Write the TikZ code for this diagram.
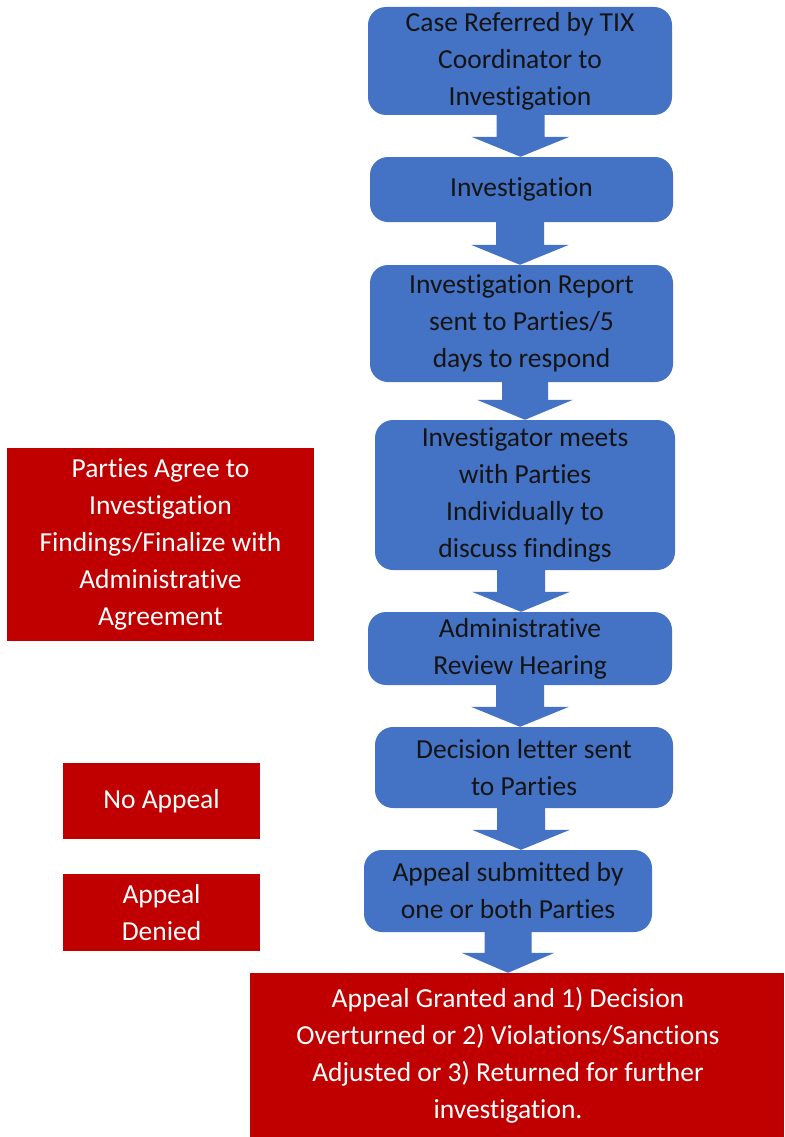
\documentclass[tikz,border=0pt]{standalone}
\usepackage{fontspec}
\setmainfont{Carlito}[RawFeature={-liga;-clig;-calt;-dlig}]
\usetikzlibrary{calc}
\definecolor{boxblue}{HTML}{4472C4}
\definecolor{boxred}{HTML}{C00000}
\definecolor{darktext}{HTML}{141414}
\tikzset{
  stepbox/.style={rectangle, rounded corners=18pt, fill=boxblue, text=darktext,
    align=center, inner sep=0pt, font=\fontsize{27.5}{37}\selectfont},
  outbox/.style={rectangle, fill=boxred, text=white,
    align=center, inner sep=0pt, font=\fontsize{27.5}{37}\selectfont},
}
\newcommand\barrow[5]{% from, to, x centre, shaft half, head half
  \fill[boxblue] let \p1=(#1.south), \p2=(#2.north) in
    (#3pt-#4pt,\y1+3pt) -- (#3pt+#4pt,\y1+3pt) -- (#3pt+#4pt,\y2+20pt) --
    (#3pt+#5pt,\y2+20pt) -- (#3pt,\y2) -- (#3pt-#5pt,\y2+20pt) --
    (#3pt-#4pt,\y2+20pt) -- cycle;}
\begin{document}
\begin{tikzpicture}[x=1pt,y=-1pt]
\useasboundingbox (0,0) rectangle (784,1137);
% flow boxes
\node[stepbox, minimum width=304pt, minimum height=108pt] (b1) at (520,61)
  {Case Referred by TIX\\Coordinator to\\Investigation};
\node[stepbox, minimum width=303pt, minimum height=65pt] (b2) at (521.5,189.5)
  {Investigation};
\node[stepbox, minimum width=303pt, minimum height=117pt] (b3) at (521.5,323.5)
  {Investigation Report\\sent to Parties/5\\days to respond};
\node[stepbox, minimum width=300pt, minimum height=150pt] (b4) at (525,495)
  {Investigator meets\\with Parties\\Individually to\\discuss findings};
\node[stepbox, minimum width=304pt, minimum height=73pt] (b5) at (520,648.5)
  {Administrative\\Review Hearing};
\node[stepbox, minimum width=298pt, minimum height=81pt] (b6) at (524,767.5)
  {Decision letter sent\\to Parties};
\node[stepbox, minimum width=288pt, minimum height=82pt] (b7) at (508,891)
  {Appeal submitted by\\one or both Parties};
% outcome boxes
\node[outbox, minimum width=307pt, minimum height=193pt] (p1) at (160.5,544.5)
  {Parties Agree to\\Investigation\\Findings/Finalize with\\Administrative\\Agreement};
\node[outbox, minimum width=197pt, minimum height=76pt] (na) at (161.5,801)
  {No Appeal};
\node[outbox, minimum width=197pt, minimum height=77pt] (ad) at (161.5,912.5)
  {Appeal\\Denied};
\fill[boxred] (757,973) rectangle (784,1137);
\node[outbox, minimum width=516pt, minimum height=164pt] (fin) at (508,1055)
  {Appeal Granted and 1) Decision\\Overturned or 2) Violations/Sanctions\\Adjusted or 3) Returned for further\\investigation.};
% block arrows
\barrow{b1}{b2}{520.5}{24}{49}
\barrow{b2}{b3}{520}{24}{49}
\barrow{b3}{b4}{525}{23}{48}
\barrow{b4}{b5}{521}{24}{49}
\barrow{b5}{b6}{520}{24}{49}
\barrow{b6}{b7}{521}{24}{49}
\barrow{b7}{fin}{508}{23.5}{46.5}
\end{tikzpicture}
\end{document}
